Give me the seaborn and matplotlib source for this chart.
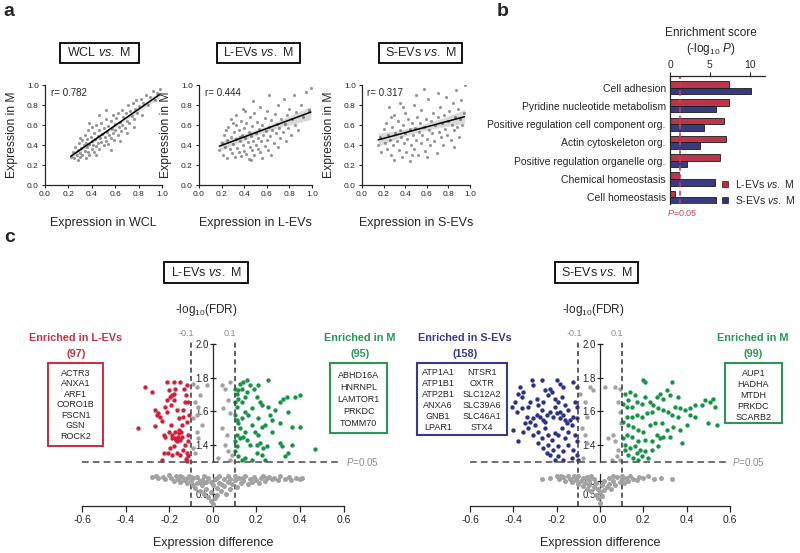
import matplotlib
matplotlib.use('Agg')
import numpy as np
import pandas as pd
import matplotlib.pyplot as plt
from matplotlib.patches import Rectangle
from matplotlib.lines import Line2D
import seaborn as sns

# ---------------- panel a: protein expression, sample vs M ----------------
wcl_pts = [(0.22,0.28),(0.24,0.33),(0.25,0.27),(0.26,0.38),(0.27,0.30),(0.28,0.35),(0.28,0.25),(0.29,0.42),
           (0.30,0.32),(0.30,0.28),(0.31,0.37),(0.32,0.45),(0.32,0.30),(0.33,0.40),(0.34,0.34),(0.34,0.50),
           (0.35,0.27),(0.35,0.42),(0.36,0.38),(0.36,0.46),(0.37,0.33),(0.37,0.55),(0.38,0.41),(0.38,0.30),
           (0.39,0.48),(0.40,0.36),(0.40,0.44),(0.40,0.58),(0.41,0.40),(0.42,0.52),(0.42,0.33),(0.43,0.46),
           (0.44,0.39),(0.44,0.60),(0.45,0.49),(0.45,0.42),(0.46,0.55),(0.46,0.36),(0.47,0.47),(0.48,0.62),
           (0.48,0.43),(0.49,0.51),(0.50,0.40),(0.50,0.57),(0.51,0.48),(0.52,0.66),(0.52,0.44),(0.53,0.53),
           (0.54,0.59),(0.54,0.41),(0.55,0.50),(0.56,0.64),(0.56,0.47),(0.57,0.56),(0.58,0.70),(0.58,0.52),
           (0.59,0.45),(0.60,0.61),(0.60,0.55),(0.61,0.67),(0.62,0.50),(0.62,0.72),(0.63,0.58),(0.64,0.63),
           (0.65,0.54),(0.66,0.75),(0.66,0.60),(0.67,0.68),(0.68,0.57),(0.69,0.72),(0.70,0.64),(0.71,0.80),
           (0.72,0.62),(0.73,0.74),(0.74,0.69),(0.75,0.82),(0.76,0.66),(0.77,0.76),(0.78,0.85),(0.79,0.72),
           (0.80,0.79),(0.82,0.86),(0.83,0.70),(0.84,0.82),(0.86,0.90),(0.88,0.80),(0.90,0.88),(0.92,0.94),
           (0.94,0.85),(0.96,0.92),(0.98,0.96),(0.64,0.44),(0.70,0.52),(0.76,0.58),(0.52,0.75),(0.46,0.70),
           (0.30,0.47),(0.44,0.30),(0.38,0.62),(0.56,0.35)]
levs_pts = [(0.18,0.35),(0.20,0.42),(0.21,0.30),(0.22,0.50),(0.23,0.38),(0.25,0.45),(0.25,0.27),(0.26,0.58),
            (0.27,0.36),(0.28,0.48),(0.29,0.32),(0.30,0.62),(0.30,0.41),(0.31,0.53),(0.32,0.28),(0.33,0.46),
            (0.33,0.70),(0.34,0.37),(0.35,0.55),(0.35,0.33),(0.36,0.44),(0.37,0.64),(0.37,0.29),(0.38,0.50),
            (0.39,0.40),(0.39,0.76),(0.40,0.57),(0.40,0.34),(0.41,0.47),(0.42,0.62),(0.42,0.31),(0.43,0.43),
            (0.44,0.53),(0.44,0.26),(0.45,0.38),(0.45,0.68),(0.46,0.49),(0.47,0.35),(0.47,0.59),(0.48,0.44),
            (0.49,0.72),(0.49,0.30),(0.50,0.52),(0.50,0.40),(0.51,0.63),(0.52,0.36),(0.52,0.47),(0.53,0.56),
            (0.54,0.78),(0.54,0.33),(0.55,0.44),(0.56,0.60),(0.56,0.27),(0.57,0.50),(0.58,0.39),(0.58,0.67),
            (0.59,0.54),(0.60,0.45),(0.60,0.74),(0.61,0.35),(0.62,0.58),(0.63,0.49),(0.64,0.65),(0.64,0.30),
            (0.65,0.55),(0.66,0.42),(0.67,0.71),(0.68,0.52),(0.69,0.61),(0.70,0.38),(0.70,0.80),(0.71,0.57),
            (0.72,0.47),(0.73,0.66),(0.74,0.53),(0.75,0.86),(0.76,0.61),(0.77,0.44),(0.78,0.70),(0.79,0.57),
            (0.80,0.76),(0.81,0.50),(0.82,0.66),(0.84,0.90),(0.85,0.60),(0.86,0.73),(0.88,0.55),(0.90,0.80),
            (0.92,0.68),(0.95,0.93),(0.97,0.75),(0.99,0.97),(0.62,0.90),(0.48,0.84),(0.41,0.74),(0.33,0.60),
            (0.28,0.66),(0.24,0.55),(0.46,0.25),(0.36,0.48)]
sevs_pts = [(0.15,0.40),(0.17,0.48),(0.18,0.33),(0.20,0.56),(0.21,0.42),(0.22,0.62),(0.23,0.36),(0.24,0.50),
            (0.25,0.78),(0.26,0.45),(0.27,0.30),(0.28,0.58),(0.29,0.40),(0.30,0.70),(0.30,0.25),(0.31,0.52),
            (0.32,0.44),(0.33,0.64),(0.34,0.35),(0.35,0.55),(0.35,0.82),(0.36,0.48),(0.37,0.28),(0.38,0.60),
            (0.39,0.42),(0.40,0.72),(0.40,0.52),(0.41,0.33),(0.42,0.46),(0.43,0.66),(0.44,0.56),(0.44,0.24),
            (0.45,0.40),(0.46,0.62),(0.47,0.50),(0.48,0.80),(0.48,0.36),(0.49,0.57),(0.50,0.45),(0.51,0.68),
            (0.52,0.30),(0.53,0.53),(0.54,0.62),(0.55,0.42),(0.55,0.75),(0.56,0.50),(0.57,0.58),(0.58,0.34),
            (0.59,0.66),(0.60,0.46),(0.61,0.86),(0.62,0.55),(0.63,0.40),(0.64,0.64),(0.65,0.52),(0.66,0.72),
            (0.67,0.44),(0.68,0.60),(0.69,0.32),(0.70,0.68),(0.71,0.53),(0.72,0.78),(0.73,0.48),(0.74,0.62),
            (0.75,0.40),(0.76,0.70),(0.77,0.56),(0.78,0.88),(0.79,0.50),(0.80,0.64),(0.81,0.74),(0.82,0.45),
            (0.83,0.60),(0.84,0.82),(0.85,0.55),(0.86,0.68),(0.87,0.95),(0.88,0.58),(0.89,0.76),(0.90,0.48),
            (0.91,0.66),(0.92,0.85),(0.93,0.60),(0.94,0.72),(0.95,1.00),(0.50,0.90),(0.38,0.78),(0.27,0.68),
            (0.60,0.28),(0.46,0.30),(0.70,0.92),(0.57,0.96),(0.85,0.38)]
scatter_titles = ['WCL $\\mathit{vs.}$ M', 'L-EVs $\\mathit{vs.}$ M', 'S-EVs $\\mathit{vs.}$ M']
scatter_xlabels = ['Expression in WCL', 'Expression in L-EVs', 'Expression in S-EVs']
r_labels = ['r= 0.782', 'r= 0.444', 'r= 0.317']
unit_ticks = [0.0, 0.2, 0.4, 0.6, 0.8, 1.0]

# ---------------- panel b: GO enrichment ----------------
terms = ['Cell adhesion', 'Pyridine nucleotide metabolism', 'Positive regulation cell component org.',
         'Actin cytoskeleton org.', 'Positive regulation organelle org.', 'Chemical homeostasis',
         'Cell homeostasis']
score_levs = [7.4, 7.4, 6.8, 7.0, 6.3, 1.1, 0.6]
score_sevs = [10.1, 5.7, 4.2, 3.8, 2.1, 5.6, 5.8]
comparisons = ['L-EVs $\\mathit{vs.}$ M', 'S-EVs $\\mathit{vs.}$ M']
p_cut = 1.3  # -log10(0.05)

# ---------------- panel c: volcano plots (expression difference, -log10 FDR) ----------------
levs_up = [(-0.341,1.504),(-0.310,1.745),(-0.280,1.716),(-0.265,1.608),(-0.257,1.578),(-0.249,1.588),
           (-0.242,1.569),(-0.265,1.516),(-0.234,1.543),(-0.226,1.461),(-0.219,1.451),(-0.222,1.353),
           (-0.234,1.314),(-0.211,1.775),(-0.203,1.725),(-0.196,1.686),(-0.188,1.696),(-0.180,1.706),
           (-0.173,1.735),(-0.211,1.667),(-0.191,1.637),(-0.176,1.667),(-0.165,1.608),(-0.157,1.559),
           (-0.203,1.480),(-0.188,1.461),(-0.173,1.441),(-0.165,1.422),(-0.157,1.471),(-0.150,1.431),
           (-0.142,1.451),(-0.180,1.392),(-0.196,1.382),(-0.206,1.353),(-0.188,1.343),(-0.165,1.353),
           (-0.150,1.343),(-0.142,1.520),(-0.135,1.569),(-0.127,1.657),(-0.122,1.696),(-0.119,1.755),
           (-0.150,1.775),(-0.176,1.775),(-0.135,1.608),(-0.119,1.539),(-0.112,1.461),(-0.127,1.402),
           (-0.119,1.353),(-0.112,1.333),(-0.122,1.320),(-0.135,1.373),(-0.145,1.480),(-0.157,1.490),
           (-0.173,1.480),(-0.211,1.598),(-0.219,1.627),(-0.130,1.735),(-0.112,1.657),(-0.109,1.578),
           (-0.115,1.422),(-0.170,1.430),(-0.160,1.450),(-0.185,1.445),(-0.190,1.520),(-0.120,1.305)]
mvsl_up = [(0.102,1.735),(0.110,1.706),(0.118,1.725),(0.125,1.765),(0.133,1.735),(0.141,1.775),
           (0.156,1.784),(0.102,1.657),(0.110,1.627),(0.118,1.676),(0.133,1.657),(0.148,1.686),
           (0.156,1.716),(0.171,1.755),(0.187,1.735),(0.202,1.686),(0.209,1.755),(0.217,1.657),
           (0.225,1.637),(0.255,1.784),(0.255,1.627),(0.263,1.578),(0.271,1.549),(0.309,1.657),
           (0.324,1.676),(0.339,1.686),(0.378,1.686),(0.401,1.696),(0.347,1.598),(0.309,1.529),
           (0.362,1.510),(0.401,1.510),(0.271,1.480),(0.102,1.578),(0.110,1.549),(0.118,1.529),
           (0.125,1.500),(0.133,1.559),(0.148,1.598),(0.164,1.578),(0.179,1.520),(0.194,1.480),
           (0.209,1.461),(0.225,1.510),(0.240,1.520),(0.110,1.461),(0.125,1.441),(0.141,1.451),
           (0.156,1.431),(0.171,1.402),(0.202,1.402),(0.217,1.412),(0.232,1.382),(0.248,1.392),
           (0.309,1.412),(0.317,1.392),(0.362,1.402),(0.347,1.353),(0.332,1.333),(0.469,1.378),
           (0.102,1.363),(0.118,1.333),(0.133,1.314),(0.148,1.324),(0.179,1.314),(0.202,1.353),
           (0.225,1.343),(0.240,1.314),(0.209,1.559),(0.179,1.618),(0.286,1.608),(0.148,1.480),
           (0.102,1.422),(0.110,1.392)]
levs_gray_up = [(-0.089,1.765),(-0.073,1.745),(-0.028,1.755),(-0.081,1.657),(-0.066,1.627),(-0.073,1.578),
                (-0.050,1.520),(-0.073,1.480),(-0.066,1.441),(-0.089,1.382),(-0.081,1.353),(0.041,1.755),
                (0.080,1.775),(0.057,1.735),(0.049,1.618),(0.080,1.588),(0.041,1.500),(0.064,1.461),
                (0.057,1.402),(0.072,1.363),(0.087,1.343),(0.080,1.314),(0.026,1.324),(-0.089,1.559),
                (-0.058,1.696),(0.072,1.667)]
levs_gray_low = [(-0.28,1.16),(-0.26,1.22),(-0.25,1.12),(-0.23,1.19),(-0.22,1.08),(-0.20,1.24),(-0.19,1.14),
                 (-0.18,1.03),(-0.17,1.20),(-0.16,1.10),(-0.15,0.98),(-0.14,1.17),(-0.13,1.06),(-0.12,0.92),
                 (-0.11,1.21),(-0.10,1.00),(-0.09,0.85),(-0.09,1.12),(-0.08,0.72),(-0.07,0.95),(-0.07,1.18),
                 (-0.06,0.62),(-0.05,0.83),(-0.05,1.05),(-0.04,0.50),(-0.04,1.22),(-0.03,0.70),(-0.03,0.96),
                 (-0.02,0.35),(-0.02,1.12),(-0.01,0.20),(-0.01,0.58),(0.00,0.05),(0.00,0.85),(0.01,0.30),
                 (0.01,1.08),(0.02,0.45),(0.02,0.72),(0.03,0.95),(0.03,1.20),(0.04,0.60),(0.05,0.82),
                 (0.05,1.10),(0.06,0.50),(0.07,0.97),(0.07,1.23),(0.08,0.68),(0.09,0.88),(0.10,1.05),
                 (0.11,0.78),(0.12,1.15),(0.13,0.93),(0.14,1.02),(0.15,1.20),(0.16,0.90),(0.17,1.10),
                 (0.18,0.98),(0.19,1.18),(0.20,1.06),(0.21,0.95),(0.22,1.14),(0.23,1.22),(0.24,1.02),
                 (0.25,1.12),(0.26,1.19),(0.27,1.08),(0.28,1.15),(0.30,1.04),(0.31,1.20),(0.33,1.11),
                 (0.35,1.16),(0.36,1.06),(0.38,1.13),(0.40,1.09),(0.41,1.15),(-0.12,1.12),(-0.06,1.00),
                 (0.04,0.90),(0.10,1.20),(-0.15,1.22),(0.14,1.12),(0.02,1.15),(-0.10,1.16),(0.08,1.10),
                 (-0.01,0.98)]

sevs_up = [(-0.369,1.745),(-0.377,1.706),(-0.362,1.686),(-0.354,1.716),(-0.315,1.784),(-0.308,1.755),
           (-0.269,1.784),(-0.254,1.725),(-0.231,1.735),(-0.200,1.784),(-0.185,1.765),(-0.169,1.745),
           (-0.123,1.775),(-0.108,1.745),(-0.408,1.627),(-0.385,1.598),(-0.362,1.618),(-0.331,1.627),
           (-0.323,1.657),(-0.292,1.676),(-0.285,1.637),(-0.269,1.608),(-0.262,1.657),(-0.238,1.696),
           (-0.223,1.716),(-0.208,1.676),(-0.192,1.657),(-0.177,1.686),(-0.162,1.637),(-0.146,1.608),
           (-0.115,1.657),(-0.108,1.627),(-0.338,1.569),(-0.323,1.539),(-0.308,1.559),(-0.300,1.520),
           (-0.292,1.578),(-0.277,1.569),(-0.262,1.549),(-0.246,1.578),(-0.231,1.598),(-0.215,1.569),
           (-0.200,1.588),(-0.185,1.559),(-0.169,1.578),(-0.154,1.529),(-0.138,1.549),(-0.123,1.569),
           (-0.108,1.559),(-0.400,1.490),(-0.377,1.422),(-0.354,1.480),(-0.331,1.500),(-0.308,1.461),
           (-0.285,1.480),(-0.269,1.441),(-0.254,1.500),(-0.238,1.461),(-0.223,1.431),(-0.208,1.471),
           (-0.192,1.461),(-0.177,1.500),(-0.162,1.441),(-0.146,1.480),(-0.131,1.520),(-0.115,1.461),
           (-0.108,1.422),(-0.285,1.412),(-0.262,1.382),(-0.238,1.402),(-0.215,1.373),(-0.192,1.392),
           (-0.169,1.363),(-0.146,1.402),(-0.123,1.373),(-0.208,1.314),(-0.192,1.333),(-0.169,1.314),
           (-0.131,1.324),(-0.108,1.343),(-0.103,1.314),(-0.246,1.353),(-0.231,1.343),(-0.392,1.657),
           (-0.346,1.529),(-0.208,1.627),(-0.185,1.598),(-0.254,1.539),(-0.162,1.549)]
mvss_up = [(0.115,1.706),(0.138,1.716),(0.162,1.696),(0.131,1.667),(0.108,1.647),(0.123,1.627),
           (0.146,1.627),(0.169,1.657),(0.192,1.647),(0.208,1.686),(0.231,1.657),(0.246,1.637),
           (0.262,1.686),(0.277,1.706),(0.292,1.676),(0.308,1.725),(0.323,1.696),(0.331,1.775),
           (0.200,1.784),(0.208,1.775),(0.362,1.686),(0.346,1.627),(0.369,1.618),(0.392,1.608),
           (0.415,1.618),(0.438,1.637),(0.469,1.637),(0.485,1.667),(0.508,1.657),(0.523,1.676),
           (0.531,1.627),(0.538,1.520),(0.500,1.529),(0.438,1.569),(0.415,1.578),(0.362,1.569),
           (0.331,1.578),(0.315,1.598),(0.292,1.608),(0.269,1.618),(0.238,1.598),(0.215,1.588),
           (0.192,1.569),(0.169,1.578),(0.146,1.569),(0.123,1.569),(0.108,1.539),(0.131,1.520),
           (0.154,1.510),(0.177,1.490),(0.200,1.480),(0.231,1.520),(0.254,1.529),(0.285,1.529),
           (0.308,1.490),(0.338,1.510),(0.369,1.490),(0.400,1.520),(0.377,1.412),(0.323,1.451),
           (0.292,1.451),(0.262,1.461),(0.238,1.422),(0.208,1.431),(0.177,1.422),(0.146,1.451),
           (0.123,1.461),(0.108,1.441),(0.115,1.402),(0.138,1.382),(0.162,1.392),(0.185,1.373),
           (0.208,1.363),(0.238,1.373),(0.269,1.392),(0.169,1.353),(0.192,1.333),(0.177,1.314),
           (0.154,1.324),(0.131,1.343),(0.115,1.373),(0.223,1.324),(0.277,1.441)]
sevs_gray_up = [(-0.046,1.745),(-0.031,1.725),(-0.069,1.657),(-0.062,1.569),(-0.085,1.500),(-0.069,1.461),
                (-0.062,1.412),(-0.077,1.324),(0.023,1.745),(0.069,1.745),(0.092,1.735),(0.085,1.657),
                (0.092,1.598),(0.095,1.529),(0.062,1.461),(0.038,1.441),(0.069,1.422),(0.085,1.373),
                (0.077,1.333),(0.054,1.314),(0.092,1.314),(-0.092,1.706)]
sevs_gray_low = [(-0.27,1.10),(-0.23,1.14),(-0.20,1.20),(-0.19,1.08),(-0.17,1.16),(-0.16,1.02),(-0.15,1.22),
                 (-0.14,1.10),(-0.13,0.96),(-0.12,1.18),(-0.11,1.05),(-0.10,0.90),(-0.10,1.20),(-0.09,1.00),
                 (-0.08,0.80),(-0.08,1.12),(-0.07,0.93),(-0.06,0.70),(-0.06,1.17),(-0.05,0.86),(-0.05,1.04),
                 (-0.04,0.60),(-0.03,0.78),(-0.03,1.10),(-0.02,0.45),(-0.02,0.95),(-0.01,0.30),(-0.01,0.68),
                 (0.00,0.12),(0.00,0.55),(0.01,0.85),(0.01,0.38),(0.02,1.00),(0.02,0.65),(0.03,0.78),
                 (0.04,1.12),(0.04,0.90),(0.05,0.70),(0.06,1.03),(0.07,0.86),(0.08,1.18),(0.09,0.97),
                 (0.10,1.08),(0.11,0.92),(0.12,1.15),(0.13,1.02),(0.14,1.20),(0.15,1.10),(0.17,1.06),
                 (0.18,1.16),(0.20,1.12),(0.22,1.20),(0.25,1.10),(0.28,1.14),(0.33,1.08),(-0.18,1.20),
                 (-0.12,1.22),(0.06,1.20),(-0.04,1.20),(0.10,1.20)]

genes_levs = ['ACTR3', 'ANXA1', 'ARF1', 'CORO1B', 'FSCN1', 'GSN', 'ROCK2']
genes_m_levs = ['ABHD16A', 'HNRNPL', 'LAMTOR1', 'PRKDC', 'TOMM70']
genes_sevs_a = ['ATP1A1', 'ATP1B1', 'ATP2B1', 'ANXA6', 'GNB1', 'LPAR1']
genes_sevs_b = ['NTSR1', 'OXTR', 'SLC12A2', 'SLC39A6', 'SLC46A1', 'STX4']
genes_m_sevs = ['AUP1', 'HADHA', 'MTDH', 'PRKDC', 'SCARB2']
counts = {'levs': 97, 'm_levs': 95, 'sevs': 158, 'm_sevs': 99}
diff_ticks = [-0.6, -0.4, -0.2, 0.0, 0.2, 0.4, 0.6]

# colours
RED = '#d21f3c'
BLUE = '#2c3189'
GREEN = '#18944a'
GRAY = '#a2a2a2'
RED_TXT = '#c63348'
GREEN_TXT = '#2c9558'
BLUE_TXT = '#353b8f'

sns.set_theme(style='ticks')
plt.rcParams['font.family'] = ['Liberation Sans', 'DejaVu Sans']
plt.rcParams['mathtext.fontset'] = 'custom'
plt.rcParams['mathtext.rm'] = 'Liberation Sans'
plt.rcParams['mathtext.it'] = 'Liberation Sans:italic'
plt.rcParams['mathtext.bf'] = 'Liberation Sans:bold'
plt.rcParams['axes.unicode_minus'] = False
plt.rcParams['axes.linewidth'] = 0.9

W, H = 800, 553
fig = plt.figure(figsize=(8, 5.53), dpi=100)


def px_axes(left, top, width, height):
    return fig.add_axes([left / W, 1 - (top + height) / H, width / W, height / H])


def ftext(x, y, s, **kw):
    kw.setdefault('ha', 'center')
    kw.setdefault('va', 'center')
    return fig.text(x / W, 1 - y / H, s, **kw)


def fbox(x0, y0, x1, y1, color, lw=1.3):
    fig.patches.append(Rectangle((x0 / W, 1 - y1 / H), (x1 - x0) / W, (y1 - y0) / H,
                                 transform=fig.transFigure, fill=False, ec=color, lw=lw))


# panel letters
ftext(9, 12, 'a', fontsize=14, fontweight='bold')
ftext(503, 12, 'b', fontsize=14, fontweight='bold')
ftext(10, 237, 'c', fontsize=14, fontweight='bold')

# ---------------- panel a ----------------
a_geom = [(45, 117), (199, 113), (362, 108)]
title_boxes = [(60, 139), (217, 300), (379, 462)]
for i, pts in enumerate([wcl_pts, levs_pts, sevs_pts]):
    left, width = a_geom[i]
    ax = px_axes(left, 85, width, 100)
    xs = np.array([p[0] for p in pts])
    ys = np.array([p[1] for p in pts])
    sns.regplot(x=xs, y=ys, ax=ax, ci=95, seed=0, color='black',
                scatter_kws=dict(s=5, color='#7c7c7c', linewidths=0),
                line_kws=dict(lw=1.1))
    ax.set_xlim(0, 1)
    ax.set_ylim(0, 1)
    ax.set_xticks(unit_ticks)
    ax.set_yticks(unit_ticks)
    ax.set_xticklabels([f'{t:.1f}' for t in unit_ticks])
    ax.set_yticklabels([f'{t:.1f}' for t in unit_ticks])
    ax.tick_params(labelsize=6, length=2.5, width=0.8, pad=2)
    sns.despine(ax=ax)
    ax.set_xlabel(scatter_xlabels[i], fontsize=9)
    ax.set_ylabel('Expression in M', fontsize=8.7)
    ax.xaxis.set_label_coords(0.5, -0.32)
    ax.yaxis.set_label_coords(-27 / width, 0.5)
    ax.text(0.05, 0.92, r_labels[i], transform=ax.transAxes, fontsize=7, va='center')
    x0, x1 = title_boxes[i]
    fbox(x0, 43, x1, 63, 'black', lw=1.3)
    ftext((x0 + x1) / 2, 53, scatter_titles[i], fontsize=9)

# ---------------- panel b ----------------
axb = px_axes(670, 76, 95, 128)
df_b = pd.DataFrame({'term': terms * 2,
                     'score': score_levs + score_sevs,
                     'comparison': [comparisons[0]] * len(terms) + [comparisons[1]] * len(terms)})
sns.barplot(data=df_b, y='term', x='score', hue='comparison', orient='h', palette=[RED, BLUE],
            edgecolor='#1a1a1a', linewidth=0.6, width=0.72, legend=False, ax=axb)
axb.set_xlim(0, 11.9)
axb.set_ylim(6.37, -0.63)
axb.xaxis.tick_top()
axb.set_xticks([0, 5, 10])
axb.tick_params(axis='x', labelsize=7.5, length=3, width=0.8, pad=1)
axb.tick_params(axis='y', labelsize=7.5, length=0, pad=3)
axb.set_xlabel('')
axb.set_ylabel('')
for s in ['right', 'bottom']:
    axb.spines[s].set_visible(False)
axb.axvline(p_cut, ymin=0, ymax=1, color='#c8405c', ls=(0, (3, 2)), lw=1.2)
ftext(682, 213, '$P$=0.05', fontsize=6.5, color='#c8405c')
ftext(711, 33, 'Enrichment score', fontsize=8.5)
ftext(711, 49, '(-log$_{10}$ $P$)', fontsize=8.5)
handles = [Line2D([], [], marker='s', ls='', markerfacecolor=c, markeredgecolor='#1a1a1a',
                  markeredgewidth=0.5, markersize=5) for c in (RED, BLUE)]
axb.legend(handles, comparisons, loc='upper left', bbox_to_anchor=(721 / W, 1 - 178 / H),
           bbox_transform=fig.transFigure, frameon=False, fontsize=7.5, borderpad=0,
           borderaxespad=0, handlelength=0.8, handletextpad=0.5, labelspacing=0.35)


# ---------------- panel c ----------------
def volcano(left, width, sig_l, sig_r, gray_up, gray_low, col_l):
    axu = px_axes(left, 344, width, 118)
    axl = px_axes(left, 474, width, 31.7)
    for ax in (axu, axl):
        ax.set_xlim(-0.6, 0.6)
        ax.patch.set_alpha(0)
        ax.spines['left'].set_position(('data', 0))
        ax.spines['top'].set_visible(False)
        ax.spines['right'].set_visible(False)
        ax.tick_params(axis='y', labelsize=7, length=4, width=0.9, direction='inout', pad=1)
    axu.spines['bottom'].set_visible(False)
    axu.tick_params(axis='x', bottom=False, labelbottom=False)
    axu.set_ylim(1.3, 2.0)
    axl.set_ylim(0, 1.3)
    axu.set_yticks([1.4, 1.6, 1.8, 2.0])
    axl.set_yticks([0.5, 1.0])
    axl.set_xticks(diff_ticks)
    axl.set_xticklabels([f'{t:.1f}' for t in diff_ticks])
    axl.tick_params(axis='x', labelsize=7.5, length=4, width=0.9, pad=3)

    for pts, col, ax, sz in [(gray_low, GRAY, axl, 13), (gray_up, GRAY, axu, 10),
                             (sig_l, col_l, axu, 10), (sig_r, GREEN, axu, 10)]:
        sns.scatterplot(x=[p[0] for p in pts], y=[p[1] for p in pts], color=col, s=sz,
                        linewidth=0, ax=ax, clip_on=False, zorder=3)
    for ax in (axu, axl):
        ax.set_xlabel('')
        ax.set_ylabel('')

    for xv, lab in [(-0.1, '-0.1'), (0.1, '0.1')]:
        axu.plot([xv, xv], [1.04, 2.02], ls=(0, (3, 2)), color='#444444', lw=1.2, clip_on=False, zorder=4)
        axu.text(xv - 0.02, 2.06, lab, ha='center', va='center', fontsize=6.5, color='#8a8a8a')
    axu.plot([-0.6, 0.58], [p_cut, p_cut], ls=(0, (4, 2.5)), color='#555555', lw=1.2, clip_on=False, zorder=4)
    axu.text(0.61, p_cut, '$P$=0.05', ha='left', va='center', fontsize=7, color='#8a8a8a')
    axu.text(-0.03, 2.2, '-log$_{10}$(FDR)', ha='center', va='center', fontsize=8.5)
    fig.text((left + width / 2) / W, 1 - 543 / H, 'Expression difference', ha='center', va='center', fontsize=9)


volcano(82, 261.5, levs_up, mvsl_up, levs_gray_up, levs_gray_low, RED)
volcano(470, 260, sevs_up, mvss_up, sevs_gray_up, sevs_gray_low, BLUE)

# comparison titles
fbox(164, 262, 248, 283, 'black', lw=1.3)
ftext(206, 272.5, 'L-EVs $\\mathit{vs.}$ M', fontsize=9)
fbox(555, 262, 638, 283, 'black', lw=1.3)
ftext(596.5, 272.5, 'S-EVs $\\mathit{vs.}$ M', fontsize=9)

# enrichment annotations, left volcano
ftext(76, 338, 'Enriched in L-EVs', fontsize=7.8, fontweight='bold', color=RED_TXT)
ftext(76, 354, f"({counts['levs']})", fontsize=7.8, fontweight='bold', color=RED_TXT)
fbox(48, 363, 103, 446, RED_TXT, lw=1.5)
for k, g in enumerate(genes_levs):
    ftext(75.5, 373 + k * 10.6, g, fontsize=6.5)

ftext(360, 338, 'Enriched in M', fontsize=7.8, fontweight='bold', color=GREEN_TXT)
ftext(360, 354, f"({counts['m_levs']})", fontsize=7.8, fontweight='bold', color=GREEN_TXT)
fbox(330, 363, 387, 433, GREEN_TXT, lw=1.5)
for k, g in enumerate(genes_m_levs):
    ftext(358.5, 375 + k * 12, g, fontsize=6.5)

# enrichment annotations, right volcano
ftext(465, 338, 'Enriched in S-EVs', fontsize=7.8, fontweight='bold', color=BLUE_TXT)
ftext(465, 354, f"({counts['sevs']})", fontsize=7.8, fontweight='bold', color=BLUE_TXT)
fbox(417, 363, 507, 435, BLUE_TXT, lw=1.5)
for k, (g1, g2) in enumerate(zip(genes_sevs_a, genes_sevs_b)):
    ftext(438, 372.5 + k * 11, g1, fontsize=6.5)
    ftext(482, 372.5 + k * 11, g2, fontsize=6.5)

ftext(753, 338, 'Enriched in M', fontsize=7.8, fontweight='bold', color=GREEN_TXT)
ftext(753, 354, f"({counts['m_sevs']})", fontsize=7.8, fontweight='bold', color=GREEN_TXT)
fbox(725, 363, 782, 423, GREEN_TXT, lw=1.5)
for k, g in enumerate(genes_m_sevs):
    ftext(753.5, 373 + k * 11.2, g, fontsize=6.5)

fig.savefig('out.png', dpi=100)
